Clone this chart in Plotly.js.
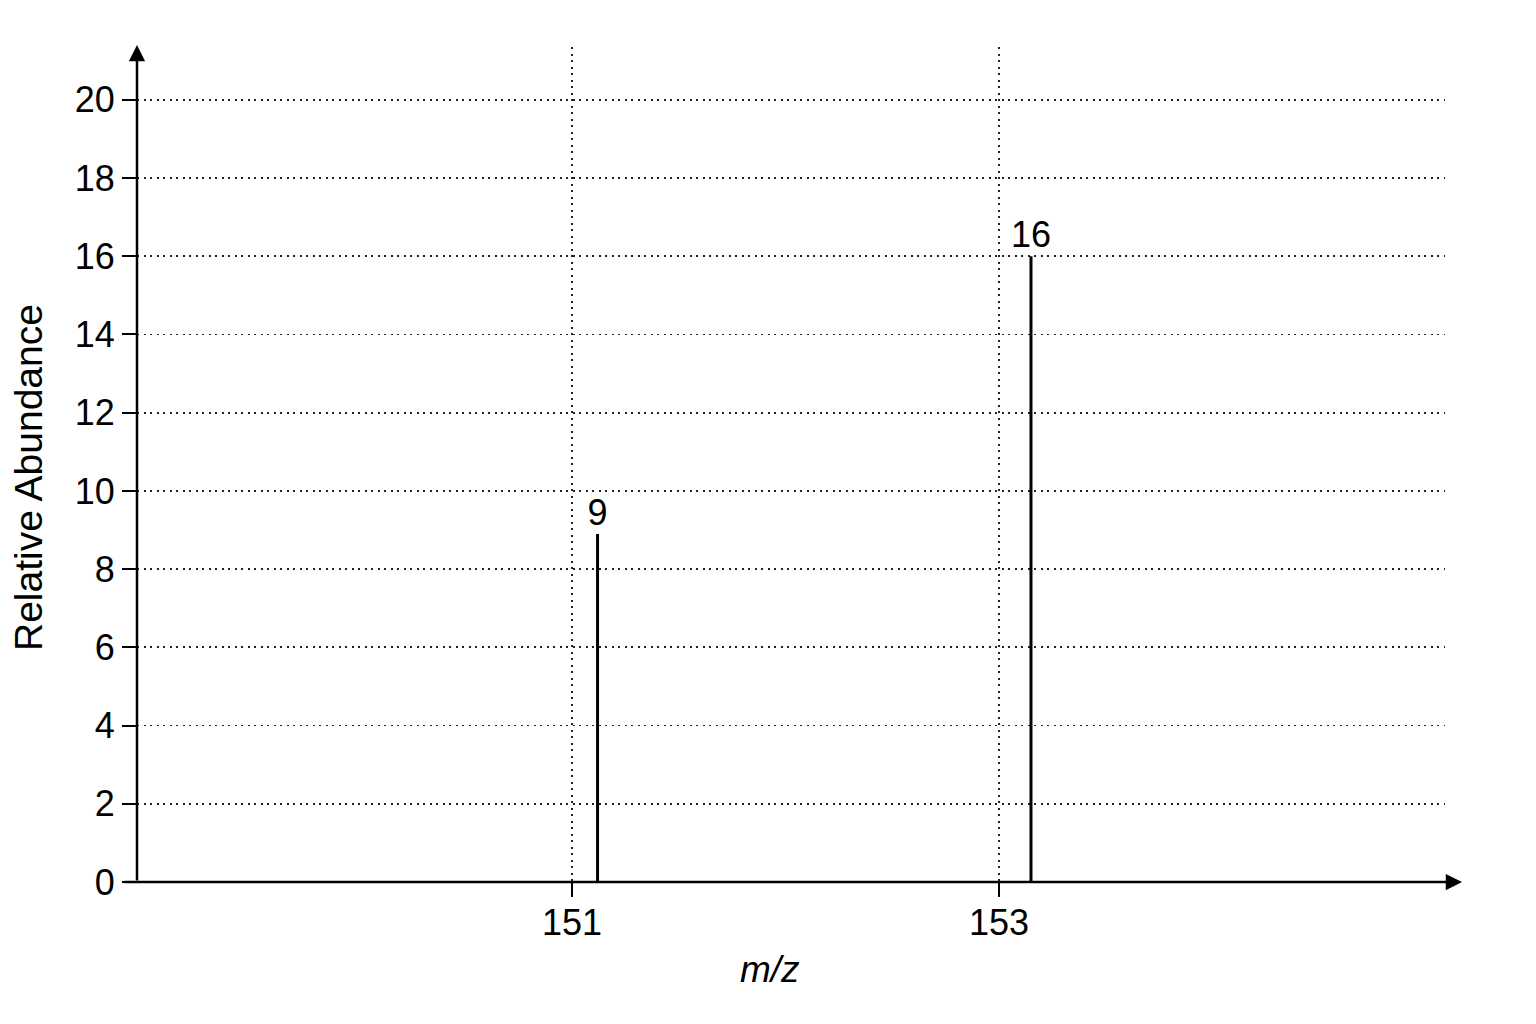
<!DOCTYPE html>
<html>
<head>
<meta charset="utf-8">
<script src="https://cdn.plot.ly/plotly-3.0.1.min.js"></script>
<style>
  html, body { margin: 0; padding: 0; background: #fff; }
  #chart { width: 1536px; height: 1024px; }
</style>
</head>
<body>
<div id="chart"></div>
<script>
// peaks
const mz = [151.12, 153.15];
const abundance = [8.9, 16];
const peakLabels = ['9', '16'];

// axis ticks
const xTicks = [151, 153];
const xTickLabels = ['151', '153'];
const yTicks = [0, 2, 4, 6, 8, 10, 12, 14, 16, 18, 20];

const sans = "'Liberation Sans', Arial, sans-serif";

// stems: one vertical segment per peak, separated by nulls
const stemX = [];
const stemY = [];
mz.forEach((m, i) => {
    stemX.push(m, m, null);
    stemY.push(0, abundance[i], null);
});

const stems = {
    type: 'scatter',
    mode: 'lines',
    x: stemX,
    y: stemY,
    line: { color: '#000', width: 3 },
    cliponaxis: false,
    hoverinfo: 'skip',
    showlegend: false
};

const labels = {
    type: 'scatter',
    mode: 'text',
    x: mz,
    y: abundance,
    text: peakLabels,
    textposition: 'top center',
    textfont: { family: sans, size: 36, color: '#000' },
    cliponaxis: false,
    hoverinfo: 'x+y',
    showlegend: false
};

// plot box in pixels, used to place the free titles
const box = { l: 137, r: 91, t: 47, b: 142, w: 1308, h: 835 };

const layout = {
    width: 1536,
    height: 1024,
    paper_bgcolor: '#fff',
    plot_bgcolor: '#fff',
    margin: { l: box.l, r: box.r, t: box.t, b: box.b },
    showlegend: false,
    font: { family: sans, color: '#000' },
    xaxis: {
        range: [148.963, 155.089],
        tickvals: xTicks,
        ticktext: xTickLabels,
        ticks: 'outside',
        ticklen: 14,
        tickwidth: 2,
        tickcolor: '#000',
        tickfont: { family: sans, size: 36, color: '#000' },
        ticklabelstandoff: -5,
        showgrid: true,
        gridcolor: '#222',
        gridwidth: 1.8,
        griddash: '2px,4.5px',
        showline: false,
        zeroline: false
    },
    yaxis: {
        range: [0, 21.35],
        tickvals: yTicks,
        ticks: 'outside',
        ticklen: 14,
        tickwidth: 2,
        tickcolor: '#000',
        tickfont: { family: sans, size: 36, color: '#000' },
        showgrid: true,
        gridcolor: '#222',
        gridwidth: 1.8,
        griddash: '2px,4.5px',
        showline: false,
        zeroline: false
    },
    annotations: [
        // y axis title
        {
            xref: 'paper', yref: 'paper',
            x: (28 - box.l) / box.w, y: (box.t + box.h - 478) / box.h,
            text: 'Relative Abundance', showarrow: false, textangle: -90,
            font: { family: sans, size: 39, color: '#000' },
            xanchor: 'center', yanchor: 'middle'
        },
        // x axis title, a little left of centre as in the original
        {
            xref: 'paper', yref: 'paper',
            x: (770 - box.l) / box.w, y: -(970 - 882) / box.h,
            text: '<i>m/z</i>', showarrow: false,
            font: { family: sans, size: 37, color: '#000' },
            xanchor: 'center', yanchor: 'middle'
        },
        // x axis with arrow head
        {
            xref: 'paper', yref: 'y', x: 1.013, y: 0,
            axref: 'pixel', ayref: 'pixel', ax: -1339, ay: 0,
            showarrow: true, arrowhead: 2, arrowsize: 1.3, arrowwidth: 2.5,
            arrowcolor: '#000', text: ''
        },
        // y axis with arrow head
        {
            xref: 'paper', yref: 'paper', x: 0, y: 1.0024,
            axref: 'pixel', ayref: 'pixel', ax: 0, ay: 837,
            showarrow: true, arrowhead: 2, arrowsize: 1.3, arrowwidth: 2.5,
            arrowcolor: '#000', text: ''
        }
    ]
};

Plotly.newPlot('chart', [stems, labels], layout, { displayModeBar: false, staticPlot: true });
</script>
</body>
</html>
